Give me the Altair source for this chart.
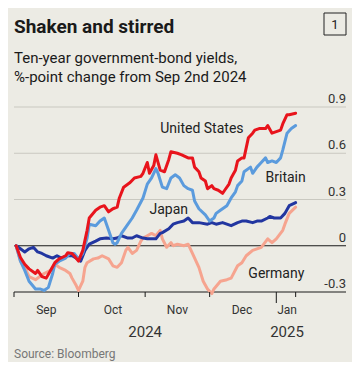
import altair as alt
import pandas as pd

# ---- data (day offsets from 2024-09-01, values in %-points) ----
us_days = [1,3,5,7,10,11,13,15,17,19,21,24,25,27,28,30,32,34,35,38,40,42,44,46,48,49,51,54,56,59,60,62,63,65,66,68,70,72,73,76,78,81,83,84,86,87,89,90,92,93,95,97,98,100,101,103,104,106,107,109,111,112,114,117,118,120,122,124,125,127,128,131]
us_vals = [0,-0.076,-0.12,-0.15,-0.18,-0.16,-0.2,-0.21,-0.16,-0.11,-0.085,-0.065,-0.045,-0.05,-0.065,-0.1,-0.03,0.1,0.18,0.23,0.25,0.26,0.22,0.24,0.25,0.31,0.38,0.41,0.44,0.45,0.47,0.54,0.47,0.52,0.59,0.49,0.48,0.56,0.61,0.6,0.59,0.57,0.57,0.51,0.48,0.44,0.42,0.37,0.39,0.37,0.36,0.34,0.36,0.4,0.44,0.49,0.55,0.57,0.57,0.7,0.73,0.75,0.76,0.76,0.78,0.73,0.74,0.75,0.79,0.85,0.85,0.86]

uk_days = [1,3,5,7,10,12,14,16,18,19,21,24,26,28,30,32,34,35,38,40,42,44,46,47,48,50,53,55,57,60,62,64,66,67,69,71,73,75,77,79,81,83,84,86,89,91,93,94,96,98,99,101,103,104,106,107,110,111,113,115,117,118,120,122,124,125,127,129,131]
uk_vals = [0,-0.1,-0.16,-0.23,-0.28,-0.28,-0.29,-0.27,-0.18,-0.12,-0.1,-0.08,-0.05,-0.05,-0.085,-0.05,0.05,0.14,0.13,0.16,0.18,0.1,0.02,0.01,0.02,0.08,0.14,0.18,0.23,0.31,0.4,0.44,0.5,0.47,0.38,0.37,0.44,0.46,0.44,0.39,0.37,0.36,0.29,0.24,0.2,0.16,0.18,0.21,0.23,0.25,0.26,0.31,0.35,0.39,0.42,0.48,0.51,0.47,0.51,0.54,0.57,0.54,0.55,0.54,0.57,0.62,0.73,0.76,0.78]

jp_days = [1,3,5,7,9,11,13,15,18,20,22,25,27,29,31,33,35,38,40,43,46,48,50,53,55,57,60,62,64,66,68,69,72,74,76,79,81,83,86,90,92,94,97,99,101,104,106,108,111,113,115,118,119,121,124,126,128,131]
jp_vals = [0,-0.02,-0.04,-0.02,-0.01,-0.04,-0.05,-0.065,-0.08,-0.065,-0.08,-0.065,-0.065,-0.08,-0.1,-0.03,0.01,0.03,0.045,0.05,0.045,0.05,0.065,0.05,0.05,0.065,0.05,0.045,0.045,0.045,0.08,0.085,0.11,0.14,0.15,0.16,0.18,0.15,0.15,0.14,0.15,0.14,0.15,0.14,0.13,0.15,0.16,0.16,0.15,0.16,0.16,0.18,0.19,0.18,0.18,0.21,0.26,0.28]

de_days = [1,3,5,7,10,12,14,17,19,21,24,26,27,29,30,32,33,34,37,39,41,44,46,48,50,52,53,55,57,59,60,62,64,66,68,69,71,73,74,76,79,81,83,86,88,90,92,93,96,99,101,104,106,108,111,113,115,118,120,122,125,126,128,131]
de_vals = [0,-0.1,-0.14,-0.2,-0.22,-0.2,-0.18,-0.16,-0.12,-0.14,-0.16,-0.18,-0.21,-0.26,-0.29,-0.23,-0.14,-0.11,-0.085,-0.08,-0.065,-0.085,-0.13,-0.14,-0.11,-0.03,-0.01,-0.05,-0.03,0.03,0.05,0.065,0.08,0.065,0.1,0.045,-0.01,0.02,0.0,0.01,0.0,0.01,-0.05,-0.14,-0.23,-0.28,-0.31,-0.28,-0.23,-0.22,-0.21,-0.13,-0.11,-0.065,-0.03,-0.02,-0.01,0.045,0.02,0.045,0.1,0.14,0.21,0.25]

series_names = ["Germany", "Japan", "Britain", "United States"]
series_colors = ["#F6A48F", "#2236A0", "#5B9BDD", "#E8141C"]

y_ticks = [-0.3, 0, 0.3, 0.6, 0.9]
y_tick_labels = ["-0.3", "0", "0.3", "0.6", "0.9"]

month_ticks = ["2024-09-01", "2024-10-01", "2024-11-01", "2024-12-01", "2025-01-10"]
year_tick = ["2025-01-01"]
month_labels = ["Sep", "Oct", "Nov", "Dec", "Jan"]
month_label_dates = ["2024-09-16", "2024-10-17", "2024-11-16", "2024-12-16", "2025-01-06"]
year_labels = ["2024", "2025"]
year_label_dates = ["2024-11-01", "2025-01-06"]

label_names = ["United States", "Britain", "Japan", "Germany"]
label_dates = ["2024-11-08", "2024-12-27", "2024-11-03", "2024-12-19"]
label_vals = [0.76, 0.44, 0.23, -0.18]

BG = "#ECEBE4"
FONT = "Roboto"

base = pd.Timestamp("2024-09-01")
frames = []
for name, d, v in [("Germany", de_days, de_vals), ("Japan", jp_days, jp_vals),
                   ("Britain", uk_days, uk_vals), ("United States", us_days, us_vals)]:
    frames.append(pd.DataFrame({"date": [base + pd.Timedelta(days=x) for x in d],
                                "value": v, "country": name}))
df = pd.concat(frames, ignore_index=True)
df["order"] = df["country"].map({n: i for i, n in enumerate(series_names)})

W, H = 332, 185
xscale = alt.Scale(domain=["2024-09-01T00:00:00", "2025-02-02T10:00:00"])
yscale = alt.Scale(domain=[-0.3, 0.9], nice=False, zero=False)

grid_df = pd.DataFrame({"v": y_ticks, "lab": y_tick_labels,
                        "dark": [v in (-0.3, 0) for v in y_ticks]})
grid = alt.Chart(grid_df).mark_rule(strokeWidth=1).encode(
    y=alt.Y("v:Q", scale=yscale, axis=None),
    x=alt.value(0), x2=alt.value(W),
    color=alt.condition("datum.dark", alt.value("#1a1a1a"), alt.value("#C9C8C0")),
)
ylabels = alt.Chart(grid_df).mark_text(align="right", baseline="alphabetic", dy=-4,
                                       font=FONT, fontSize=13, color="#333333").encode(
    y=alt.Y("v:Q", scale=yscale, axis=None), x=alt.value(W), text="lab:N")

lines = alt.Chart(df).mark_line(strokeWidth=3, strokeJoin="round", strokeCap="round").encode(
    x=alt.X("date:T", scale=xscale, axis=None),
    y=alt.Y("value:Q", scale=yscale, axis=None),
    color=alt.Color("country:N", scale=alt.Scale(domain=series_names, range=series_colors), legend=None),
    detail="country:N",
    order="order:Q",
)

tick_df = pd.DataFrame({"d": pd.to_datetime(month_ticks)})
ticks = alt.Chart(tick_df).mark_rule(color="#1a1a1a", strokeWidth=1).encode(
    x=alt.X("d:T", scale=xscale, axis=None), y=alt.value(H), y2=alt.value(H + 5))
ytick_df = pd.DataFrame({"d": pd.to_datetime(year_tick)})
yticks = alt.Chart(ytick_df).mark_rule(color="#1a1a1a", strokeWidth=1).encode(
    x=alt.X("d:T", scale=xscale, axis=None), y=alt.value(H), y2=alt.value(H + 11))

ml_df = pd.DataFrame({"d": pd.to_datetime(month_label_dates), "t": month_labels})
mlabels = alt.Chart(ml_df).mark_text(font=FONT, fontSize=12, color="#333333", baseline="middle").encode(
    x=alt.X("d:T", scale=xscale, axis=None), y=alt.value(H + 18), text="t:N")
yl_df = pd.DataFrame({"d": pd.to_datetime(year_label_dates), "t": year_labels})
ylabs = alt.Chart(yl_df).mark_text(font=FONT, fontSize=15, color="#333333", baseline="middle").encode(
    x=alt.X("d:T", scale=xscale, axis=None), y=alt.value(H + 40), text="t:N")

sl_df = pd.DataFrame({"d": pd.to_datetime(label_dates), "v": label_vals, "t": label_names})
slabels = alt.Chart(sl_df).mark_text(font=FONT, fontSize=14, color="#222222", align="left",
                                     baseline="middle").encode(
    x=alt.X("d:T", scale=xscale, axis=None), y=alt.Y("v:Q", scale=yscale, axis=None), text="t:N")

one = pd.DataFrame({"k": [0]})
redbar = alt.Chart(one).mark_rect(color="#E3120B").encode(
    x=alt.value(0), x2=alt.value(40), y=alt.value(-107), y2=alt.value(-102))
box = alt.Chart(one).mark_rect(fill=None, stroke="#222222", strokeWidth=1).encode(
    x=alt.value(310), x2=alt.value(332), y=alt.value(-94), y2=alt.value(-72))
boxnum = alt.Chart(one).mark_text(text="1", font=FONT, fontSize=13, color="#222222",
                                  baseline="alphabetic").encode(x=alt.value(321), y=alt.value(-78))
title = alt.Chart(one).mark_text(text="Shaken and stirred", font=FONT, fontSize=19, fontWeight="bold",
                                 color="#1a1a1a", align="left", baseline="alphabetic").encode(
    x=alt.value(0), y=alt.value(-74))
sub1 = alt.Chart(one).mark_text(text="Ten-year government-bond yields,", font=FONT, fontSize=15,
                                color="#1a1a1a", align="left", baseline="alphabetic").encode(
    x=alt.value(0), y=alt.value(-44))
sub2 = alt.Chart(one).mark_text(text="%-point change from Sep 2nd 2024", font=FONT, fontSize=15,
                                color="#1a1a1a", align="left", baseline="alphabetic").encode(
    x=alt.value(0), y=alt.value(-25))
source = alt.Chart(one).mark_text(text="Source: Bloomberg", font=FONT, fontSize=12,
                                  color="#777777", align="left", baseline="alphabetic").encode(
    x=alt.value(0), y=alt.value(H + 66))

chart = alt.layer(grid, ylabels, lines, ticks, yticks, mlabels, ylabs, slabels,
                  redbar, box, boxnum, title, sub1, sub2, source).properties(
    width=W, height=H,
    autosize=alt.AutoSizeParams(type="none"),
    padding={"left": 6, "top": 99, "right": 6, "bottom": 70},
    background=BG,
).configure_view(stroke=None, clip=False)

chart.save("out.html", embed_options={"renderer": "svg", "actions": False})
